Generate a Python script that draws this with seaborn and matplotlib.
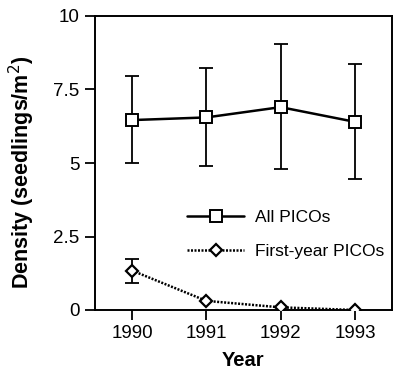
import matplotlib
matplotlib.use("Agg")
import matplotlib.pyplot as plt
import seaborn as sns
import pandas as pd
from matplotlib.lines import Line2D

years = [1990, 1991, 1992, 1993]
all_picos = [6.46, 6.55, 6.9, 6.4]
all_upper = [7.96, 8.23, 9.05, 8.36]
all_lower = [5.0, 4.9, 4.8, 4.46]
first_year = [1.34, 0.31, 0.09, 0.0]
first_upper = [1.74, None, None, None]
first_lower = [0.93, None, None, None]
yticks = [0, 2.5, 5, 7.5, 10]
yticklabels = ["0", "2.5", "5", "7.5", "10"]

sns.set_theme(style="ticks")
plt.rcParams['font.family'] = ['Liberation Sans', 'DejaVu Sans']
plt.rcParams['text.color'] = 'black'
plt.rcParams['axes.labelcolor'] = 'black'
plt.rcParams['xtick.color'] = 'black'
plt.rcParams['ytick.color'] = 'black'

fig = plt.figure(figsize=(4.0, 3.69), dpi=100)
ax = fig.add_axes([95/400, 1 - 310/369, (392-95)/400, (310-16)/369])

df = pd.DataFrame({"Year": years + years,
                   "Density": all_picos + first_year,
                   "Series": ["All PICOs"]*4 + ["First-year PICOs"]*4})

# error bars
for x, yc, lo, hi in zip(years, all_picos, all_lower, all_upper):
    ax.errorbar([x], [yc], yerr=[[yc - lo], [hi - yc]], fmt='none', ecolor='black',
                elinewidth=1.3, capsize=5, capthick=1.3, zorder=1)
for x, yc, lo, hi in zip(years, first_year, first_lower, first_upper):
    if lo is None:
        continue
    ax.errorbar([x], [yc], yerr=[[yc - lo], [hi - yc]], fmt='none', ecolor='black',
                elinewidth=1.3, capsize=5, capthick=1.3, zorder=1)

sns.lineplot(data=df[df.Series == "All PICOs"], x="Year", y="Density", ax=ax,
             color='black', linewidth=1.8, marker='s', markersize=8,
             markerfacecolor='white', markeredgecolor='black', markeredgewidth=1.4,
             zorder=3, legend=False)
sns.lineplot(data=df[df.Series == "First-year PICOs"], x="Year", y="Density", ax=ax,
             color='black', linewidth=1.8, marker='D', markersize=6,
             markerfacecolor='white', markeredgecolor='black', markeredgewidth=1.6,
             zorder=3, legend=False)
ax.lines[-1].set_linestyle((0, (0.8, 0.6)))

ax.set_xlim(1989.5, 1993.5)
ax.set_ylim(0, 10)
ax.set_xticks(years)
ax.set_xticklabels([str(y) for y in years])
ax.set_yticks(yticks)
ax.set_yticklabels(yticklabels)
ax.tick_params(axis='both', direction='out', length=7, width=1.3, labelsize=13.5,
               colors='black', pad=4)
for s in ax.spines.values():
    s.set_linewidth(1.4)
    s.set_color('black')
    s.set_visible(True)

ax.set_xlabel("Year", fontsize=14.5, fontweight='bold', labelpad=6, color='black')
ax.set_ylabel("Density (seedlings/m$^2$)", fontsize=15.5, fontweight='bold', labelpad=12,
              color='black')
ax.yaxis.label.set_y(0.47)

handles = [Line2D([], [], color='black', lw=1.8, marker='s', markersize=8,
                  markerfacecolor='white', markeredgewidth=1.4),
           Line2D([], [], color='black', lw=1.8, linestyle=(0, (0.8, 0.6)), marker='D',
                  markersize=6, markerfacecolor='white', markeredgewidth=1.6)]
leg = ax.legend(handles, ["All PICOs", "First-year PICOs"], loc='center left',
                bbox_to_anchor=(0.31, 0.256), frameon=False, fontsize=12.5,
                handlelength=3.3, handletextpad=0.6, labelspacing=1.1, borderpad=0,
                borderaxespad=0, labelcolor='black')

fig.savefig("out.png", dpi=100)
